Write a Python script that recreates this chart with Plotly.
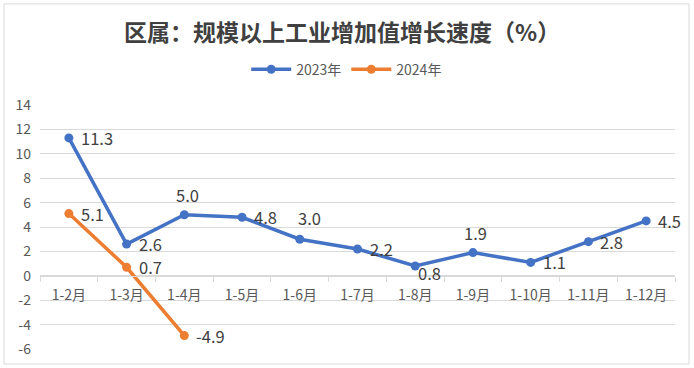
import plotly.graph_objects as go

categories = ["1-2月", "1-3月", "1-4月", "1-5月", "1-6月", "1-7月", "1-8月", "1-9月", "1-10月", "1-11月", "1-12月"]
values_2023 = [11.3, 2.6, 5.0, 4.8, 3.0, 2.2, 0.8, 1.9, 1.1, 2.8, 4.5]
values_2024 = [5.1, 0.7, -4.9]
label_pos_2023 = ["r", "r", "t", "r", "tr", "r", "br", "t", "r", "r", "r"]
label_pos_2024 = ["r", "r", "r"]
y_ticks = [-6, -4, -2, 0, 2, 4, 6, 8, 10, 12, 14]
y_tick_text = [str(v) for v in y_ticks]

BLUE = "#4472C4"
ORANGE = "#ED7D31"
TXT = "#404040"
GRID = "#D9D9D9"
FONT = "Noto Sans CJK SC"

fig = go.Figure()
fig.add_trace(go.Scatter(x=categories, y=values_2023, name="2023年", mode="lines+markers",
                         line=dict(color=BLUE, width=3.5), marker=dict(size=9, color=BLUE)))
fig.add_trace(go.Scatter(x=categories[:len(values_2024)], y=values_2024, name="2024年", mode="lines+markers",
                         line=dict(color=ORANGE, width=3.5), marker=dict(size=9, color=ORANGE)))

def add_labels(xs, ys, pos):
    for x, y, p in zip(xs, ys, pos):
        if p == "r":
            kw = dict(xanchor="left", yanchor="middle", xshift=11, yshift=0)
        elif p == "t":
            kw = dict(xanchor="center", yanchor="bottom", xshift=3, yshift=7)
        elif p == "tr":
            kw = dict(xanchor="left", yanchor="bottom", xshift=-3, yshift=8)
        else:  # br
            kw = dict(xanchor="left", yanchor="middle", xshift=2, yshift=-7)
        fig.add_annotation(x=x, y=y, text=f"{y:.1f}", showarrow=False, borderpad=0,
                           font=dict(family=FONT, size=16.5, color=TXT), **kw)

add_labels(categories, values_2023, label_pos_2023)
add_labels(categories[:len(values_2024)], values_2024, label_pos_2024)

fig.update_layout(
    width=694, height=368,
    margin=dict(l=40, r=19, t=105, b=19, autoexpand=False),
    paper_bgcolor="white", plot_bgcolor="white",
    font=dict(family=FONT, color="#595959", size=14),
    title=dict(text="<b>区属：规模以上工业增加值增长速度（%）</b>", x=0.493, xanchor="center",
               y=0.91, yanchor="middle", xref="container", yref="container",
               font=dict(family=FONT, size=23, color=TXT)),
    legend=dict(orientation="h", x=0.483, xanchor="center", y=1.145, yanchor="middle",
                font=dict(family=FONT, size=14, color="#595959"), itemwidth=40,
                bgcolor="rgba(0,0,0,0)"),
    showlegend=True,
)
fig.update_xaxes(type="category", anchor="free", position=(0 - y_ticks[0]) / (y_ticks[-1] - y_ticks[0]),
                 showline=True, linecolor=GRID, linewidth=1, ticks="outside", tickson="boundaries",
                 ticklen=5, tickcolor=GRID, showgrid=False, zeroline=False, automargin=False,
                 ticklabelstandoff=6,
                 tickfont=dict(family=FONT, size=14, color="#595959"),
                 range=[-0.5, len(categories) - 0.5])
fig.update_yaxes(range=[y_ticks[0], y_ticks[-1]], tickvals=y_ticks, ticktext=y_tick_text,
                 showgrid=True, gridcolor=GRID, automargin=False,
                 gridwidth=1, zeroline=False, showline=False, ticks="", ticklabelstandoff=8,
                 tickfont=dict(family=FONT, size=14, color="#595959"))
fig.add_shape(type="rect", xref="paper", yref="paper",
              x0=-36 / 635, x1=1 + 14 / 635, y0=-15 / 243.7, y1=1 + 101 / 243.7,
              line=dict(color=GRID, width=1), fillcolor="rgba(0,0,0,0)", layer="below")

fig.write_html("out.html", config={"displayModeBar": False},
               post_script="document.body.style.margin='0';document.body.style.overflow='hidden';")
